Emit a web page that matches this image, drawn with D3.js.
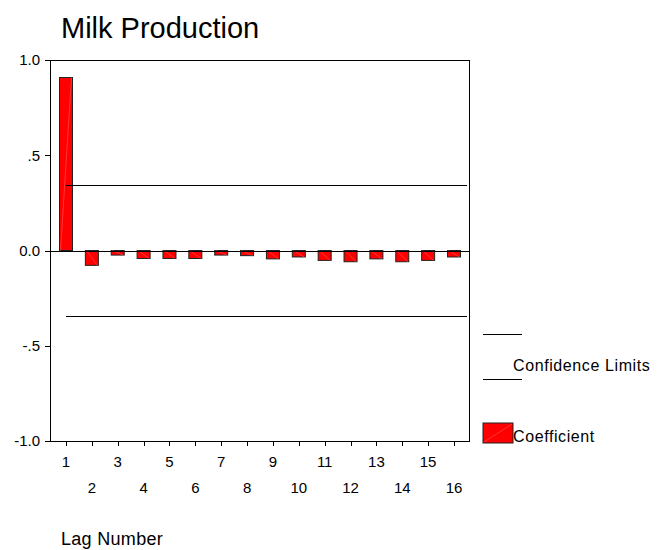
<!DOCTYPE html>
<html>
<head>
    <meta charset="utf-8">
    <style>
        body { margin: 0; background: #fff; }
        svg { display: block; font-family: "Liberation Sans", Arial, sans-serif; }
    </style>
</head>
<body>
    <svg width="663" height="550"></svg>

<script src="https://d3js.org/d3.v7.min.js"></script>
<script>
    // lags and autocorrelation coefficients
    let lags = d3.range(1, 17)
    let coef = [0.908, -0.078, -0.024, -0.042, -0.042, -0.042, -0.024, -0.027,
                -0.044, -0.034, -0.052, -0.059, -0.044, -0.059, -0.052, -0.034]
    let confLimit = [0.344, -0.344]
    let yTicks = [1.0, 0.5, 0.0, -0.5, -1.0]
    let yTickLabels = ["1.0", ".5", "0.0", "-.5", "-1.0"]

    let svg = d3.select("svg")

    let plotLeft = 50, plotRight = 469, plotTop = 60, plotBottom = 441

    let x = d3.scalePoint()
        .domain(lags)
        .range([66, 454])

    let y = d3.scaleLinear()
        .domain([-1, 1])
        .range([plotBottom, plotTop])

    let barW = 13

    // title
    svg.append("text")
        .attr("x", 61)
        .attr("y", 38)
        .style("font-size", "29px")
        .text("Milk Production")

    // frame
    svg.append("rect")
        .attr("x", plotLeft + 0.5)
        .attr("y", plotTop + 0.5)
        .attr("width", plotRight - plotLeft)
        .attr("height", plotBottom - plotTop)
        .style("fill", "none")
        .style("stroke", "#000")
        .style("stroke-width", 1)

    // y axis ticks + labels
    let yAxis = svg.append("g")
    yAxis.selectAll("line")
        .data(yTicks)
        .join("line")
        .attr("x1", plotLeft - 5)
        .attr("x2", plotLeft)
        .attr("y1", d => Math.round(y(d)) + 0.5)
        .attr("y2", d => Math.round(y(d)) + 0.5)
        .style("stroke", "#000")
    yAxis.selectAll("text")
        .data(yTicks)
        .join("text")
        .attr("x", 40)
        .attr("y", d => y(d))
        .attr("dy", "0.36em")
        .attr("text-anchor", "end")
        .style("font-size", "15px")
        .text((d, i) => yTickLabels[i])

    // x axis ticks + labels (two staggered rows)
    let xAxis = svg.append("g")
    xAxis.selectAll("line")
        .data(lags)
        .join("line")
        .attr("x1", d => Math.round(x(d)) + 0.5)
        .attr("x2", d => Math.round(x(d)) + 0.5)
        .attr("y1", plotBottom)
        .attr("y2", plotBottom + 5)
        .style("stroke", "#000")
    xAxis.selectAll("text")
        .data(lags)
        .join("text")
        .attr("x", d => x(d))
        .attr("y", d => d % 2 == 1 ? 467 : 493)
        .attr("text-anchor", "middle")
        .style("font-size", "15px")
        .text(d => d)

    svg.append("text")
        .attr("x", 61)
        .attr("y", 545)
        .style("font-size", "18px")
        .style("letter-spacing", "0.3px")
        .text("Lag Number")

    // bars
    let bars = svg.append("g")
        .selectAll("g")
        .data(lags)
        .join("g")

    bars.append("rect")
        .attr("x", d => x(d) - barW / 2)
        .attr("y", (d, i) => y(Math.max(0, coef[i])))
        .attr("width", barW)
        .attr("height", (d, i) => Math.abs(y(coef[i]) - y(0)))
        .style("fill", "#ff0000")
        .style("stroke", "#222")
        .style("stroke-width", 1)

    bars.append("line")
        .attr("x1", d => x(d) - barW / 2 + 1)
        .attr("x2", d => x(d) + barW / 2 - 1)
        .attr("y1", y(0))
        .attr("y2", (d, i) => y(coef[i]))
        .style("stroke", "#ff6a6a")
        .style("stroke-width", 0.5)

    // zero line
    svg.append("line")
        .attr("x1", plotLeft - 5)
        .attr("x2", plotRight)
        .attr("y1", Math.round(y(0)) + 0.5)
        .attr("y2", Math.round(y(0)) + 0.5)
        .style("stroke", "#000")

    // confidence limits
    svg.append("g")
        .selectAll("line")
        .data(confLimit)
        .join("line")
        .attr("x1", x(1))
        .attr("x2", plotRight - 2)
        .attr("y1", d => Math.round(y(d)) + 0.5)
        .attr("y2", d => Math.round(y(d)) + 0.5)
        .style("stroke", "#000")

    // legend
    let legend = svg.append("g")
    legend.selectAll("line")
        .data([334, 379])
        .join("line")
        .attr("x1", 483)
        .attr("x2", 522)
        .attr("y1", d => d + 0.5)
        .attr("y2", d => d + 0.5)
        .style("stroke", "#000")
    legend.append("text")
        .attr("x", 513)
        .attr("y", 371)
        .style("font-size", "16px")
        .style("letter-spacing", "0.6px")
        .text("Confidence Limits")

    legend.append("rect")
        .attr("x", 483)
        .attr("y", 423)
        .attr("width", 30)
        .attr("height", 20)
        .style("fill", "#ff0000")
        .style("stroke", "#222")
    legend.append("line")
        .attr("x1", 484)
        .attr("y1", 442)
        .attr("x2", 512)
        .attr("y2", 424)
        .style("stroke", "#ff6a6a")
        .style("stroke-width", 0.5)
    legend.append("text")
        .attr("x", 513)
        .attr("y", 442)
        .style("font-size", "16px")
        .style("letter-spacing", "0.6px")
        .text("Coefficient")
</script>
</body>
</html>
